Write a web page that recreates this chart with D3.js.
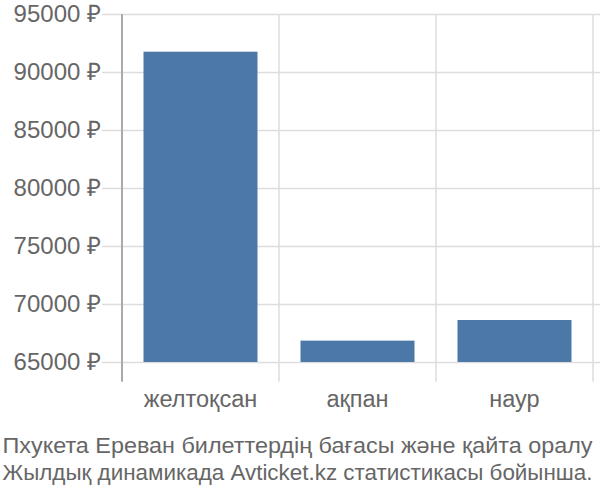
<!DOCTYPE html>
<html>
<head>
<meta charset="utf-8">
<script src="https://cdn.jsdelivr.net/npm/d3@7"></script>
<style>
  html, body { margin: 0; padding: 0; background: #fff; }
  svg { display: block; font-family: "Liberation Sans", Arial, sans-serif; }
</style>
</head>
<body>
<svg id="chart" width="600" height="500"></svg>
<script>
const categories = ["желтоқсан", "ақпан", "наур"];
const prices = [91750, 66840, 68620];
const yTicks = [65000, 70000, 75000, 80000, 85000, 90000, 95000];
const titleLines = [
  "Пхукета Ереван билеттердің бағасы және қайта оралу",
  "Жылдық динамикада Avticket.kz статистикасы бойынша."
];
const currency = "₽";
const baseValue = 65000;

(function () {
const svg = d3.select("#chart");
const mLeft = 122, mRight = 593, mTop = 14, mBottom = 381.7;

const y = d3.scaleLinear().domain([63300, 95000]).range([mBottom, mTop]);
const x = d3.scaleBand().domain(categories).range([mLeft, mRight]).padding(0);

// horizontal gridlines + y ticks
const yAxis = d3.axisLeft(y).tickValues(yTicks)
  .tickSize(20).tickSizeOuter(0).tickPadding(1)
  .tickFormat(d => d + " " + currency);
const gy = svg.append("g").attr("transform", `translate(${mLeft},0)`).call(yAxis);
gy.select(".domain").remove();
gy.selectAll(".tick line").attr("stroke", "#dddddd").attr("stroke-width", 1.5)
  .clone().attr("x1", 0).attr("x2", mRight - mLeft + 7);
gy.selectAll(".tick text").attr("fill", "#666").attr("font-size", 24)
  .attr("font-family", "Liberation Sans, Arial, sans-serif");

// vertical gridlines at band boundaries
const bounds = categories.map(c => x(c)).concat([x(categories[categories.length-1]) + x.bandwidth()]);
svg.append("g").selectAll("line").data(bounds.slice(1)).join("line")
  .attr("x1", d => d).attr("x2", d => d)
  .attr("y1", mTop).attr("y2", mBottom)
  .attr("stroke", "#dddddd").attr("stroke-width", 1.5);

// bars
const inset = x.bandwidth() * 0.137;
svg.append("g").selectAll("rect").data(categories).join("rect")
  .attr("x", d => x(d) + inset)
  .attr("width", x.bandwidth() - 2 * inset)
  .attr("y", (d, i) => y(prices[i]))
  .attr("height", (d, i) => y(baseValue) - y(prices[i]))
  .attr("fill", "#4c78a8");

// left axis line
svg.append("line").attr("x1", mLeft).attr("x2", mLeft)
  .attr("y1", mTop).attr("y2", mBottom)
  .attr("stroke", "#aaaaaa").attr("stroke-width", 2);

// x labels
const xAxis = d3.axisBottom(x).tickSize(0).tickPadding(0);
const gx = svg.append("g").attr("transform", `translate(0,${mBottom})`).call(xAxis);
gx.select(".domain").remove();
gx.selectAll(".tick text").attr("fill", "#666").attr("font-size", 23.5)
  .attr("dy", null).attr("y", 25)
  .attr("font-family", "Liberation Sans, Arial, sans-serif");

// title
svg.append("g").selectAll("text").data(titleLines).join("text")
  .attr("x", 2.5).attr("y", (d, i) => 453 + i * 26.6)
  .attr("fill", "#666").attr("font-size", 22.5)
  .attr("textLength", 590).attr("lengthAdjust", "spacingAndGlyphs")
  .text(d => d);
})();
</script>
</body>
</html>
